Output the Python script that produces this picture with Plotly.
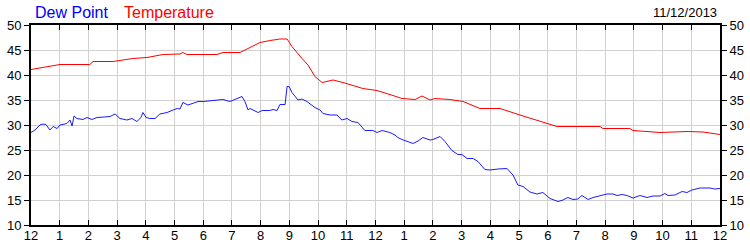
import plotly.graph_objects as go

# Hours since midnight (0..24) and readings
temp_hours = [0.00, 1.01, 2.05, 2.16, 2.86, 3.20, 3.55, 4.04, 4.60, 5.19, 5.29, 5.43,
              6.48, 6.69, 7.28, 7.63, 7.98, 8.33, 8.67, 8.92, 9.09, 9.44, 9.65, 9.89,
              10.14, 10.52, 10.87, 11.56, 12.05, 12.61, 12.92, 13.38, 13.62, 13.90,
              14.07, 14.59, 15.05, 15.64, 16.34, 17.03, 17.73, 18.32, 19.82, 19.92,
              20.86, 20.97, 21.91, 22.85, 23.41, 24.00]
temperature = [41.1, 42.1, 42.1, 42.7, 42.7, 43.0, 43.3, 43.5, 44.1, 44.2, 44.5, 44.1,
               44.1, 44.5, 44.5, 45.5, 46.5, 46.9, 47.2, 47.2, 45.7, 43.3, 42.0, 39.7,
               38.5, 39.0, 38.5, 37.3, 36.9, 35.9, 35.3, 35.1, 35.8, 35.0,
               35.3, 35.1, 34.7, 33.3, 33.3, 32.0, 30.7, 29.7, 29.7, 29.3,
               29.3, 28.9, 28.5, 28.7, 28.6, 28.1]

dew_hours = [0.00, 0.14, 0.31, 0.42, 0.52, 0.66, 0.77, 0.91, 1.01, 1.25, 1.36, 1.43,
             1.50, 1.60, 1.81, 1.95, 2.12, 2.30, 2.54, 2.75, 2.93, 3.10, 3.34, 3.52,
             3.69, 3.83, 3.90, 4.01, 4.14, 4.32, 4.49, 4.74, 4.95, 5.09, 5.19, 5.29,
             5.47, 5.64, 5.82, 5.99, 6.34, 6.69, 6.93, 7.18, 7.35, 7.45, 7.56, 7.63,
             7.91, 8.05, 8.32, 8.43, 8.57, 8.67, 8.85, 8.92, 8.99, 9.09, 9.30, 9.44,
             9.61, 9.89, 10.07, 10.17, 10.42, 10.66, 10.83, 11.01, 11.18, 11.39, 11.63,
             11.91, 12.05, 12.23, 12.50, 12.68, 12.78, 12.92, 13.10, 13.31, 13.48, 13.65,
             13.90, 14.00, 14.25, 14.42, 14.66, 14.87, 15.01, 15.19, 15.40, 15.57, 15.81,
             15.99, 16.27, 16.58, 16.79, 16.96, 17.14, 17.28, 17.38, 17.62, 17.83, 18.08,
             18.36, 18.53, 18.70, 18.88, 19.05, 19.19, 19.40, 19.58, 19.82, 20.06, 20.27,
             20.41, 20.59, 20.76, 20.97, 21.21, 21.46, 21.67, 21.91, 22.08, 22.19, 22.43,
             22.68, 22.85, 23.02, 23.30, 23.65, 23.82, 24.00]
dew_point = [28.5, 29.0, 30.0, 30.2, 30.1, 29.0, 29.7, 29.3, 30.0, 30.3, 31.0, 29.8,
             31.8, 31.3, 31.1, 31.5, 31.1, 31.5, 31.6, 31.7, 32.2, 31.3, 31.0, 31.3,
             30.7, 31.5, 32.5, 31.5, 31.3, 31.3, 32.2, 32.5, 33.0, 33.3, 33.2, 34.5,
             34.0, 34.3, 34.7, 34.7, 34.9, 35.1, 34.7, 35.3, 35.7, 34.7, 33.0, 33.3,
             32.5, 32.9, 32.9, 33.1, 32.9, 34.1, 34.1, 37.7, 37.7, 36.5, 35.0, 35.2,
             34.7, 33.5, 33.0, 32.3, 32.0, 32.0, 31.0, 31.3, 30.7, 30.5, 28.9,
             28.9, 28.5, 28.9, 28.5, 28.0, 27.5, 27.1, 26.8, 26.3, 26.8, 27.5,
             27.0, 27.1, 27.7, 26.7, 24.9, 24.1, 24.1, 23.3, 23.3, 22.7, 21.1,
             21.0, 21.2, 21.3, 20.0, 18.0, 17.7, 17.0, 16.6, 16.2, 16.5, 15.3,
             14.7, 15.0, 15.5, 15.1, 15.2, 15.9, 15.1, 15.5, 15.8, 16.2, 16.2,
             15.9, 16.1, 15.9, 15.4, 15.9, 15.5, 15.8, 15.8, 16.3, 15.9, 16.0,
             16.7, 16.5, 17.0, 17.4, 17.4, 17.2, 17.3]

x_tickvals = list(range(0, 25))
x_ticklabels = ["12", "1", "2", "3", "4", "5", "6", "7", "8", "9", "10", "11",
                "12", "1", "2", "3", "4", "5", "6", "7", "8", "9", "10", "11", "12"]
y_tickvals = [10, 15, 20, 25, 30, 35, 40, 45, 50]

FONT = "Liberation Sans"

fig = go.Figure()
fig.add_trace(go.Scatter(x=temp_hours, y=temperature, mode="lines",
                         line=dict(color="#ff0000", width=1), name="Temperature"))
fig.add_trace(go.Scatter(x=dew_hours, y=dew_point, mode="lines",
                         line=dict(color="#1a1aff", width=1), name="Dew Point"))
# invisible trace to carry the right-hand axis
fig.add_trace(go.Scatter(x=[0, 24], y=[10, 50], mode="lines", yaxis="y2",
                         line=dict(color="rgba(0,0,0,0)", width=0),
                         hoverinfo="skip", showlegend=False))

common_y = dict(range=[10, 50], tickvals=y_tickvals, ticks="outside", ticklen=5,
                tickcolor="black", showline=True, linecolor="black", linewidth=2,
                automargin=False,
                tickfont=dict(family=FONT, size=13, color="black"))

fig.update_layout(
    width=750, height=250,
    margin=dict(l=31, r=30, t=25, b=25, autoexpand=False),
    paper_bgcolor="white", plot_bgcolor="white",
    showlegend=False,
    font=dict(family=FONT, size=13, color="black"),
    xaxis=dict(range=[0, 24], tickvals=x_tickvals, ticktext=x_ticklabels,
               ticks="inside", ticklen=5, tickcolor="black", mirror="ticks",
               showline=True, linecolor="black", linewidth=2, automargin=False,
               ticklabelstandoff=-3,
               showgrid=True, gridcolor="#d0d0d0", gridwidth=1, zeroline=False,
               tickfont=dict(family=FONT, size=13, color="black")),
    yaxis=dict(**common_y, showgrid=True, gridcolor="#d0d0d0", gridwidth=1,
               zeroline=False, side="left"),
    yaxis2=dict(**common_y, overlaying="y", side="right", showgrid=False,
                zeroline=False),
)

fig.layout.annotations = [
    dict(text="Dew Point", xref="paper", yref="paper", x=(33 - 31) / 689, y=1 + (25 - 12) / 200,
         xanchor="left", yanchor="middle", showarrow=False,
         font=dict(family=FONT, size=16, color="#0000ff")),
    dict(text="Temperature", xref="paper", yref="paper", x=(122 - 31) / 689, y=1 + (25 - 12) / 200,
         xanchor="left", yanchor="middle", showarrow=False,
         font=dict(family=FONT, size=16, color="#ff0000")),
    dict(text="11/12/2013", xref="paper", yref="paper", x=(719 - 31) / 689, y=1 + (25 - 12) / 200,
         xanchor="right", yanchor="middle", showarrow=False,
         font=dict(family=FONT, size=13, color="black")),
]

fig.write_html("out.html")
